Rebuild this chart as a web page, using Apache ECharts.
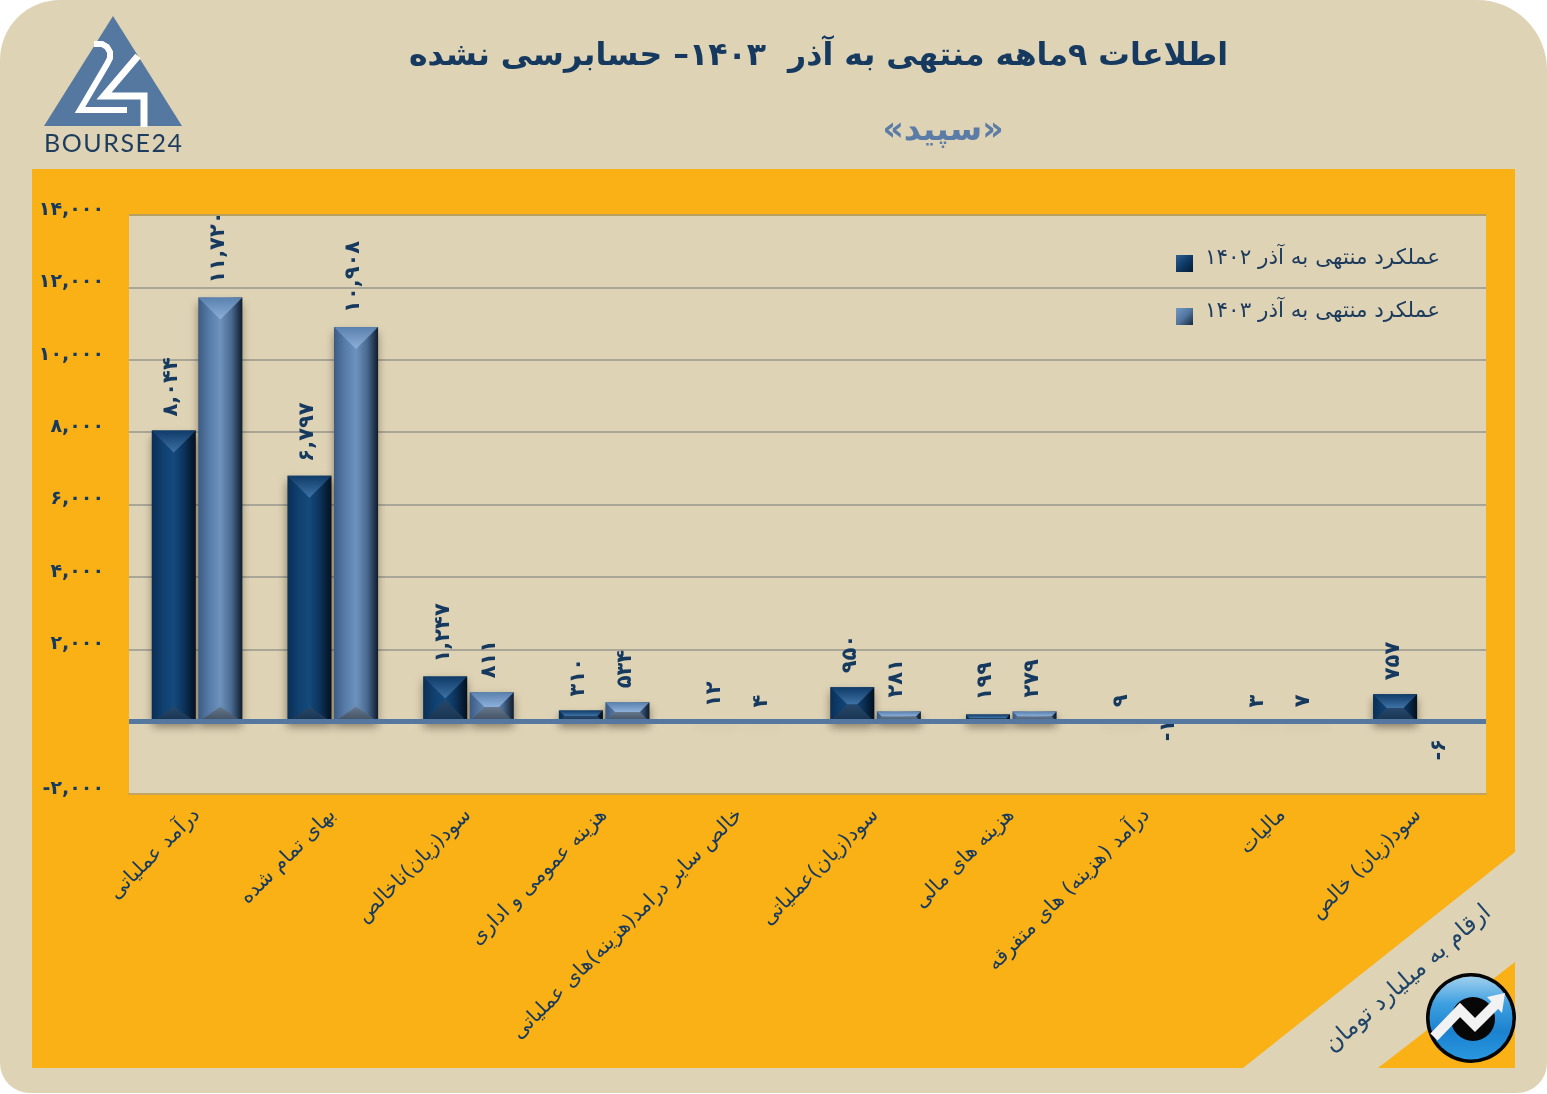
<!DOCTYPE html>
<html lang="fa">
<head>
<meta charset="utf-8">
<title>سپید</title>
<script src="https://cdn.jsdelivr.net/npm/echarts@6/dist/echarts.min.js"></script>
<style>
html, body { margin: 0; padding: 0; background: #fff; }
#main { width: 1547px; height: 1094px; }
</style>
</head>
<body>
<div id="main"></div>
<script>
var categories = ['درآمد عملیاتی', 'بهای تمام شده', 'سود(زیان)ناخالص', 'هزینه عمومی و اداری',
    'خالص سایر درامد(هزینه)های عملیاتی', 'سود(زیان)عملیاتی', 'هزینه های مالی',
    'درآمد (هزینه) های متفرقه', 'مالیات', 'سود(زیان) خالص'];
var values1402 = [8044, 6797, 1247, 310, 12, 950, 199, 9, 3, 757];
var values1403 = [11720, 10908, 811, 534, 4, 281, 279, -1, 7, -6];
var name1402 = 'عملکرد منتهی به آذر ۱۴۰۲';
var name1403 = 'عملکرد منتهی به آذر ۱۴۰۳';
var yMin = -2000, yMax = 14000, yStep = 2000;

var FONT = '"DejaVu Sans"';
var INK = '#15395f';
var BEIGE = '#dfd3b6';
var ORANGE = '#f9b116';
var STEEL = '#54789f';
var G = echarts.graphic;

// اعداد فارسی با جداکننده هزارگان
function toFa(v) {
    var s = String(v).replace(/\B(?=(\d{3})+$)/g, ',');
    return s.replace(/\d/g, function (d) { return '۰۱۲۳۴۵۶۷۸۹'[d]; });
}
function rtl(s) { return '\u202B' + s + '\u202C'; }

function grad(x, y, stops) {
    return new G.LinearGradient(0, 0, x, y, stops.map(function (c, i) {
        return { offset: i / (stops.length - 1), color: c };
    }));
}

var darkBar = {
    body: ['#0a2f55', '#10406f', '#144a7c', '#0c3158', '#03101f'],
    top: ['#0f3b68', '#3f72a6'],
    bottom: ['#28486a', '#17324f'],
    shift: -0.17
};
var lightBar = {
    body: ['#3b5b82', '#587ca8', '#6d92bd', '#4a6a90', '#0f1c2c'],
    top: ['#5a80ad', '#8cb0da'],
    bottom: ['#66788d', '#3f4d5e'],
    shift: 0.173
};

function bevelBars(style) {
    return function (params, api) {
        var idx = api.value(0), val = api.value(1);
        var band = api.size([1, 0])[0];
        var base = api.coord([idx, 0]);
        var tip = api.coord([idx, val]);
        var w = band * 0.325;
        var cx = base[0] + band * style.shift;
        var l = cx - w / 2, r = cx + w / 2;
        var t = Math.min(base[1], tip[1]), b = Math.max(base[1], tip[1]);
        var h = b - t;
        var d = Math.min(w / 2, h / 2);
        var dBase = h > 60 ? 15 : d;
        var kids = [{
            type: 'rect',
            shape: { x: l, y: t, width: w, height: h },
            style: {
                fill: grad(1, 0, style.body),
                shadowBlur: 9, shadowOffsetX: 0, shadowOffsetY: 5, shadowColor: 'rgba(40,30,10,0.5)'
            }
        }];
        if (h > 2) {
            kids.push({
                type: 'polygon',
                shape: { points: [[l, t], [r, t], [r - d, t + d], [l + d, t + d]] },
                style: { fill: grad(0, 1, style.top) }
            }, {
                type: 'polygon',
                shape: { points: h > 60 ? [[l, b], [r, b], [cx, b - dBase]] : [[l, b], [r, b], [r - d, b - d], [l + d, b - d]] },
                style: { fill: grad(0, 1, style.bottom) }
            });
        }
        var gap = val < 0 ? (val === -1 ? -2 : 17) : 14;
        kids.push({
            type: 'text',
            x: cx - 2,
            y: val < 0 ? b + gap : t - gap,
            rotation: Math.PI / 2,
            style: {
                text: toFa(val),
                font: 'bold 21px ' + FONT,
                fill: INK,
                align: val < 0 ? 'right' : 'left',
                verticalAlign: 'middle'
            }
        });
        return { type: 'group', children: kids };
    };
}

function pairs(list) {
    return list.map(function (v, i) { return [i, v]; });
}

function backdrop() {
    return [
        { type: 'rect', z: -10, shape: { x: 0, y: 0, width: 1547, height: 1093, r: [60, 70, 30, 30] }, style: { fill: BEIGE } },
        { type: 'polygon', z: -9, shape: { points: [[32, 169], [1515, 169], [1515, 852], [1243, 1068], [32, 1068]] }, style: { fill: ORANGE } },
        { type: 'polygon', z: -9, shape: { points: [[1515, 962], [1515, 1068], [1378, 1068]] }, style: { fill: ORANGE } },
        // لوگوی بورس۲۴
        { type: 'polygon', z: 10, shape: { points: [[113, 16], [44, 126], [182, 126]] }, style: { fill: STEEL } },
        { type: 'polyline', z: 11, shape: { points: [[94, 44], [102, 44], [107, 47], [110, 52], [110, 58], [107, 64], [80, 110], [127, 110]] }, style: { stroke: '#fff', lineWidth: 6, fill: null } },
        { type: 'polyline', z: 11, shape: { points: [[138, 56], [104, 96], [144, 96], [144, 127]] }, style: { stroke: '#fff', lineWidth: 7, fill: null } },
        { type: 'text', z: 11, x: 113, y: 144, style: { text: 'B O U R S E 2 4'.replace(/ /g, '\u200a'), font: '25px Lato', fill: '#1d3c5e', align: 'center', verticalAlign: 'middle' } },
        // لوگوی پایین
        { type: 'circle', z: 10, shape: { cx: 1471, cy: 1018, r: 45 }, style: { fill: '#050505' } },
        { type: 'circle', z: 11, shape: { cx: 1471, cy: 1018, r: 41.5 }, style: { fill: grad(0, 1, ['#9fd0ee', '#3d9fe0', '#1b82cf', '#2a97e0']) } },
        { type: 'circle', z: 12, shape: { cx: 1473, cy: 1019, r: 22 }, style: { fill: '#070707' } },
        { type: 'polyline', z: 13, shape: { points: [[1434, 1037], [1460, 1010], [1475, 1025], [1497, 1003]] }, style: { stroke: '#f2f2f2', lineWidth: 10, fill: null } },
        { type: 'polygon', z: 13, shape: { points: [[1505, 993], [1487, 997], [1502, 1013]] }, style: { fill: '#f2f2f2' } },
        // یادداشت واحد
        { type: 'text', z: 10, x: 1408, y: 979, rotation: 41 * Math.PI / 180, style: { text: rtl('ارقام به میلیارد تومان'), font: '23.5px ' + FONT, fill: '#1e4468', align: 'center', verticalAlign: 'middle' } }
    ];
}

var myChart = echarts.init(document.getElementById('main'));

var option = {
    animation: false,
    title: [
        { text: rtl('اطلاعات ۹ماهه منتهی به آذر  ۱۴۰۳– حسابرسی نشده'), left: 813.5, top: 36, textAlign: 'center', textStyle: { fontFamily: FONT, fontWeight: 'bold', fontSize: 31.6, color: INK } },
        { text: rtl('«سپید»'), left: 938, top: 110, textAlign: 'center', textStyle: { fontFamily: FONT, fontWeight: 'bold', fontSize: 33, color: '#5b7ca6' } }
    ],
    legend: {
        orient: 'vertical',
        left: 1171,
        top: 242,
        itemWidth: 17,
        itemHeight: 17,
        itemGap: 28,
        icon: 'rect',
        data: [name1402, name1403],
        formatter: function (n) { return '{t|' + rtl(n) + '}'; },
        textStyle: {
            rich: {
                t: { fontFamily: FONT, fontSize: 21.5, color: '#1b3a5c', padding: [0, 0, 11, 7] }
            }
        }
    },
    grid: { left: 129, right: 61, top: 215, bottom: 300, show: true, backgroundColor: BEIGE, borderWidth: 0 },
    xAxis: [{
        type: 'category',
        data: categories,
        position: 'bottom',
        axisLine: { onZero: false, lineStyle: { color: '#c3a45c', width: 2 } },
        axisTick: { show: false },
        axisLabel: {
            rotate: 45, margin: 18, interval: 0,
            fontFamily: FONT, fontSize: 20.5, color: INK,
            formatter: function (c) { return rtl(c); }
        }
    }, {
        type: 'category',
        data: categories,
        position: 'top',
        z: 5,
        axisLine: { onZero: true, lineStyle: { color: STEEL, width: 5, cap: 'butt' } },
        axisTick: { show: false },
        axisLabel: { show: false }
    }],
    yAxis: {
        type: 'value',
        min: yMin,
        max: yMax,
        interval: yStep,
        axisLine: { show: false },
        axisTick: { show: false },
        splitLine: { lineStyle: { color: ['#a9a698', '#a9a698', '#a9a698', '#a9a698', '#a9a698', '#a9a698', '#a9a698', '#a9a698', '#b79f62'], width: 2 } },
        axisLabel: {
            margin: 25,
            verticalAlign: 'bottom',
            lineHeight: 10,
            fontFamily: FONT, fontWeight: 'bold', fontSize: 19, color: INK,
            formatter: function (v) { return v === 0 ? '' : toFa(v); }
        }
    },
    series: [{
        name: name1402,
        type: 'custom',
        renderItem: bevelBars(darkBar),
        encode: { x: 0, y: 1 },
        data: pairs(values1402),
        itemStyle: { color: grad(1, 1, ['#2f6294', '#0d3a66', '#071a30']) }
    }, {
        name: name1403,
        type: 'custom',
        renderItem: bevelBars(lightBar),
        encode: { x: 0, y: 1 },
        data: pairs(values1403),
        itemStyle: { color: grad(1, 1, ['#7298c4', '#52769f', '#16283e']) }
    }],
    graphic: { elements: backdrop() }
};

myChart.setOption(option);
</script>
</body>
</html>
